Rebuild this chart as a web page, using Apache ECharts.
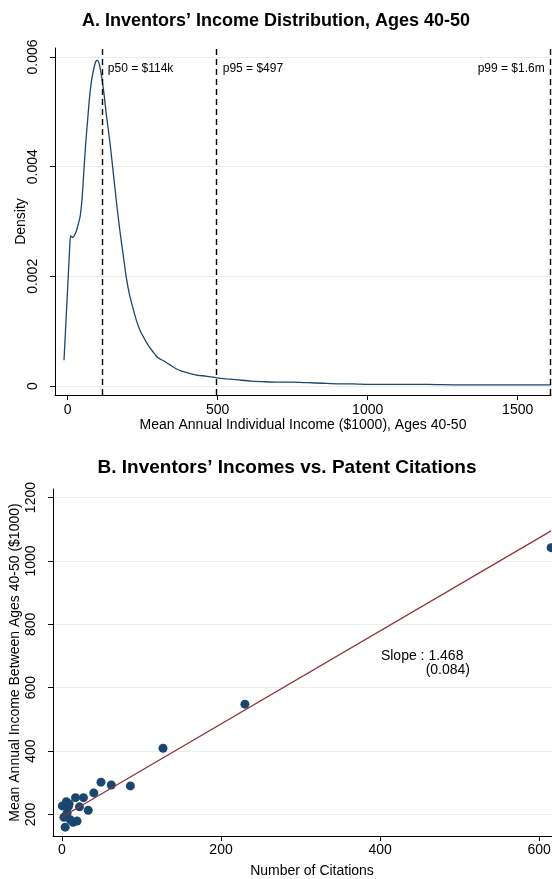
<!DOCTYPE html>
<html><head><meta charset="utf-8">
<script src="https://cdn.jsdelivr.net/npm/echarts@6/dist/echarts.min.js"></script>
<style>html,body{margin:0;padding:0;background:#fff;overflow:hidden;width:552px;height:879px}#c{width:640px;height:879px}</style>
</head><body><div id="c"></div><script>
// ---------- Panel A data ----------
const titleA = 'A. Inventors\u2019 Income Distribution, Ages 40-50';
const incomeX = [-12,-6,0,4,7,10,14,18,24,30,36,42,48,54,60,66,72,78,84,90,95,100,105,110,116,122,128,135,142,150,158,166,175,185,195,205,215,228,241,255,270,285,300,320,340,360,380,400,430,460,497,530,570,610,650,700,750,800,850,900,950,1000,1100,1200,1300,1400,1500,1610];
const densityY = [0.00047,0.00112,0.00177,0.0022,0.00253,0.00274,0.00272,0.00271,0.00276,0.00284,0.00296,0.0031,0.0034,0.0039,0.0044,0.0048,0.0052,0.0055,0.0057,0.00585,0.00593,0.00594,0.00588,0.00575,0.00555,0.0053,0.0050,0.0047,0.0044,0.0040,0.0036,0.0032,0.0028,0.0024,0.0020,0.0017,0.00148,0.00122,0.00102,0.00087,0.00073,0.00062,0.00052,0.00046,0.00039,0.00032,0.00027,0.00024,0.0002,0.00018,0.00015,0.00013,0.00011,0.00009,0.00008,0.00007,0.00007,0.00006,0.00005,0.00004,0.00004,0.00003,0.00003,0.00003,0.00002,0.00002,0.00002,0.00002];
const pctValues = [114, 497, 1610];
const pctLabels = ['p50 = $114k', 'p95 = $497', 'p99 = $1.6m'];
const aXTicks = [0, 500, 1000, 1500];
const aYTicks = [0, 0.002, 0.004, 0.006];
const aXName = 'Mean Annual Individual Income ($1000), Ages 40-50';
const aYName = 'Density';

// ---------- Panel B data ----------
const titleB = 'B. Inventors\u2019 Incomes vs. Patent Citations';
const citations = [0.5,2.5,4,5.5,6.5,8,9,10.5,14,17,19,22,27,33,40,49,62,86,127,230,615];
const meanIncome = [227,191,160,240,205,225,233,183,175,253,179,224,253,213,268,302,293,290,409,548,1042];
const fitX = [0, 615];
const fitY = [192, 1095];
const slopeText = 'Slope : 1.468';
const seText = '(0.084)';
const bXTicks = [0, 200, 400, 600];
const bYTicks = [200, 400, 600, 800, 1000, 1200];
const bXName = 'Number of Citations';
const bYName = 'Mean Annual Income Between Ages 40-50 ($1000)';

const FONT = '"Liberation Sans", Arial, Helvetica, sans-serif';
const NAVY = '#1a476f';
const MAROON = '#90353b';
const GRIDC = '#e6eef0';
const plain = v => String(v);

function axisCommon(extra) {
  return Object.assign({
    axisLine: {show: true, onZero: false, lineStyle: {color: '#000', width: 1}},
    axisTick: {show: true, length: 5, inside: false, lineStyle: {color: '#000', width: 1}},
    splitLine: {show: true, lineStyle: {color: GRIDC, width: 1}},
    nameTextStyle: {fontFamily: FONT, fontSize: 14, color: '#000'},
  }, extra);
}

const chart = echarts.init(document.getElementById('c'), null, {renderer: 'canvas'});
chart.setOption({
  animation: false,
  backgroundColor: '#fff',
  graphic: [
    {type: 'text', x: 276, y: 21, style: {text: titleA, textAlign: 'center', textVerticalAlign: 'middle',
      font: 'bold 18px ' + FONT, fill: '#000'}},
    {type: 'text', x: 287, y: 468, style: {text: titleB, textAlign: 'center', textVerticalAlign: 'middle',
      font: 'bold 19px ' + FONT, fill: '#000'}}
  ],
  grid: [
    {left: 55, top: 48, width: 496, height: 347, containLabel: false, outerBoundsMode: 'none'},
    {left: 53, top: 489, width: 518, height: 347, containLabel: false, outerBoundsMode: 'none'}
  ],
  xAxis: [
    axisCommon({gridIndex: 0, type: 'value', min: -42, max: 1611,
      axisTick: {show: true, length: 5, customValues: aXTicks, lineStyle: {color: '#000'}},
      axisLabel: {customValues: aXTicks, margin: 8, fontFamily: FONT, fontSize: 14, color: '#000', formatter: plain},
      splitLine: {show: false},
      name: aXName, nameLocation: 'middle', nameGap: 20}),
    axisCommon({gridIndex: 1, type: 'value', min: -11.3, max: 640,
      axisTick: {show: true, length: 5, customValues: bXTicks, lineStyle: {color: '#000'}},
      axisLabel: {customValues: bXTicks, margin: 7, fontFamily: FONT, fontSize: 14, color: '#000', formatter: plain},
      splitLine: {show: false},
      name: bXName, nameLocation: 'middle', nameGap: 28})
  ],
  yAxis: [
    axisCommon({gridIndex: 0, type: 'value', min: -0.000164, max: 0.006164,
      axisTick: {show: true, length: 5, customValues: aYTicks, lineStyle: {color: '#000'}},
      axisLabel: {customValues: aYTicks, rotate: 90, margin: 15, fontFamily: FONT, fontSize: 14, color: '#000',
        formatter: v => (Math.abs(v) < 1e-9 ? '0' : v.toFixed(3))},
      name: aYName, nameLocation: 'middle', nameGap: 27, nameMoveOverlap: false}),
    axisCommon({gridIndex: 1, type: 'value', min: 132, max: 1227,
      axisTick: {show: true, length: 5, customValues: bYTicks, lineStyle: {color: '#000'}},
      axisLabel: {customValues: bYTicks, rotate: 90, margin: 15, fontFamily: FONT, fontSize: 14, color: '#000', formatter: plain},
      name: bYName, nameLocation: 'middle', nameGap: 31, nameMoveOverlap: false})
  ],
  series: [
    {
      type: 'line', xAxisIndex: 0, yAxisIndex: 0, smooth: 0.2, symbol: 'none',
      data: incomeX.map((x, i) => [x, densityY[i]]),
      lineStyle: {color: NAVY, width: 1.3},
      markLine: {
        silent: true, symbol: 'none',
        lineStyle: {color: '#000', type: [6, 4], width: 1.4},
        label: {show: false},
        data: pctValues.map(v => ({xAxis: v}))
      },
      markPoint: {
        symbol: 'circle', symbolSize: 0,
        data: pctValues.map((v, i) => ({
          coord: [v, 0.00578],
          label: {show: true, formatter: pctLabels[i], position: i === 2 ? 'left' : 'right',
            distance: 6, fontFamily: FONT, fontSize: 12, color: '#000'}
        }))
      }
    },
    {
      type: 'scatter', xAxisIndex: 1, yAxisIndex: 1, symbolSize: 9,
      data: citations.map((x, i) => [x, meanIncome[i]]),
      itemStyle: {color: NAVY, opacity: 1}
    },
    {
      type: 'line', xAxisIndex: 1, yAxisIndex: 1, symbol: 'none',
      data: fitX.map((x, i) => [x, fitY[i]]),
      lineStyle: {color: MAROON, width: 1.3},
      markPoint: {
        symbol: 'circle', symbolSize: 0,
        data: [
          {coord: [401, 700], label: {show: true, formatter: slopeText, position: 'right', distance: 0,
            fontFamily: FONT, fontSize: 14, color: '#000'}},
          {coord: [513, 654], label: {show: true, formatter: seText, position: 'left', distance: 0,
            fontFamily: FONT, fontSize: 14, color: '#000'}}
        ]
      }
    }
  ]
});
</script></body></html>
